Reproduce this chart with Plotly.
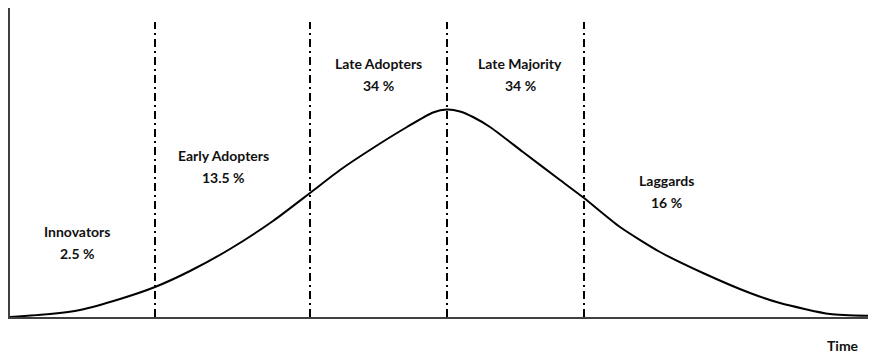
import plotly.graph_objects as go

# Adoption curve (time units, relative adoption level)
time = [10, 50, 80, 120, 155, 190, 230, 273, 310, 340, 373, 407, 433, 447, 460, 473, 490, 523, 560, 584,
        620, 660, 703, 750, 780, 830, 876]
adoption = [0, 3, 7, 18, 30, 46, 68, 96, 124, 147, 169, 190, 204.5, 207.5, 205.5, 200, 190, 165, 137, 119,
            90, 65, 44, 24, 14, 3, 1]

# Segment boundaries
boundaries = [155, 310, 447, 584]

# Segment labels
segments = ["Innovators", "Early Adopters", "Late Adopters", "Late Majority", "Laggards"]
shares = ["2.5 %", "13.5 %", "34 %", "34 %", "16 %"]
axis_label = "Time"

# Label placement (time, level) for name row
label_pos = [(77, 86), (223, 162), (378, 254), (520, 254), (666, 137)]

FONT = "Lato"
TXT = "#111111"
fig = go.Figure()
fig.add_trace(go.Scatter(x=time, y=adoption, mode="lines",
                         line=dict(color="black", width=2, shape="spline", smoothing=0.6),
                         hoverinfo="skip", showlegend=False))

for b in boundaries:
    fig.add_shape(type="line", xref="x", yref="y", x0=b, x1=b, y0=0, y1=295,
                  line=dict(color="black", width=2, dash="8px,4px,2px,4px"), layer="below")

for name, pct, (lx, ly) in zip(segments, shares, label_pos):
    fig.add_annotation(x=lx, y=ly, xref="x", yref="y", text=f"<b>{name}</b>", showarrow=False,
                       font=dict(family=FONT, size=14, color=TXT), xanchor="center", yanchor="middle")
    fig.add_annotation(x=lx, y=ly - 22, xref="x", yref="y", text=f"<b>{pct}</b>", showarrow=False,
                       font=dict(family=FONT, size=14, color=TXT), xanchor="center", yanchor="middle")

fig.add_annotation(x=843, y=-28 / 309, xref="x", yref="paper", text=f"<b>{axis_label}</b>", showarrow=False,
                   font=dict(family=FONT, size=14, color=TXT), xanchor="center", yanchor="middle")

fig.update_layout(
    width=868, height=345,
    margin=dict(l=2, r=0, t=0, b=36),
    paper_bgcolor="white", plot_bgcolor="white",
    xaxis=dict(range=[10, 876], showgrid=False, zeroline=False, showticklabels=False, ticks="",
               showline=True, linecolor="#404040", linewidth=1.5, fixedrange=True),
    yaxis=dict(range=[0, 309], showgrid=False, zeroline=False, showticklabels=False, ticks="",
               showline=True, linecolor="#404040", linewidth=1.5, fixedrange=True),
)
fig.write_html("out.html")
